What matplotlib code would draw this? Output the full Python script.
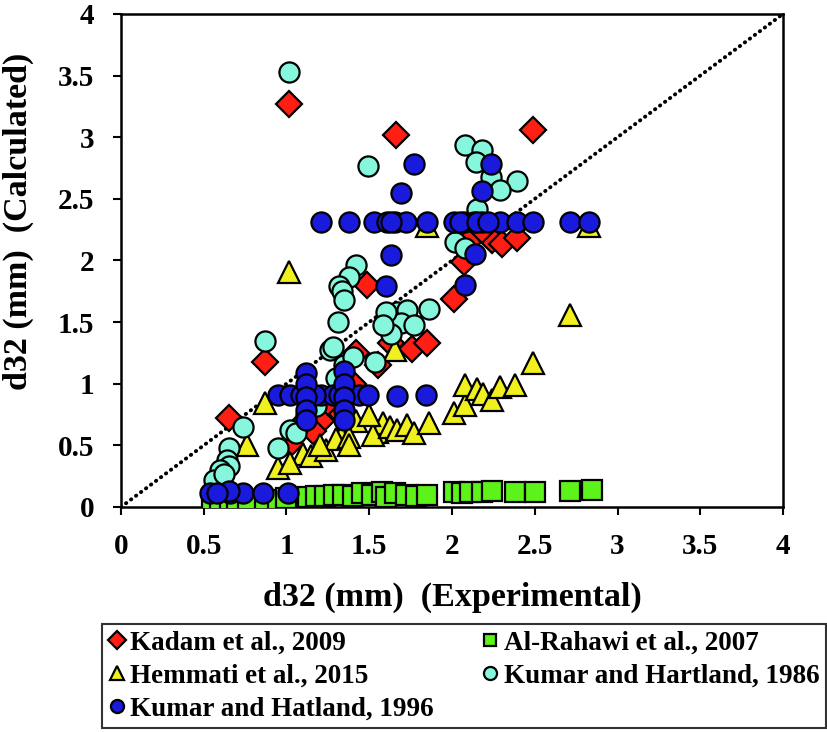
import numpy as np
import matplotlib
matplotlib.use('Agg')
import matplotlib.pyplot as plt

plt.rcParams['font.family'] = ['Liberation Serif', 'DejaVu Serif']
plt.rcParams['font.weight'] = 'bold'

# Kadam et al., 2009 (red diamonds)
kadam_x = [1.015, 1.66, 2.49, 0.87, 0.65, 1.485, 1.42, 1.21, 1.02, 1.16, 1.30, 1.63,
           1.76, 1.85, 2.01, 2.07, 2.14, 2.24, 2.30, 2.39, 2.18, 1.25, 1.10, 1.40, 1.55]
kadam_y = [3.27, 3.02, 3.06, 1.18, 0.72, 1.80, 1.25, 0.70, 0.51, 0.62, 0.80, 1.33,
           1.28, 1.33, 1.69, 1.99, 2.21, 2.17, 2.13, 2.18, 2.25, 0.85, 0.68, 1.00, 1.15]

# Al-Rahawi et al., 2007 (green squares)
rahawi_x = [0.55, 0.60, 0.66, 0.70, 0.77, 0.87, 0.95, 1.00, 1.13, 1.18, 1.23, 1.29, 1.34,
            1.40, 1.455, 1.515, 1.575, 1.60, 1.655, 1.725, 1.78, 1.85, 2.01, 2.06, 2.11,
            2.18, 2.24, 2.38, 2.50, 2.71, 2.845]
rahawi_y = [0.02, 0.03, 0.03, 0.04, 0.04, 0.05, 0.06, 0.07, 0.08, 0.09, 0.09, 0.10, 0.10,
            0.09, 0.11, 0.10, 0.12, 0.08, 0.11, 0.10, 0.09, 0.10, 0.12, 0.11, 0.12,
            0.12, 0.13, 0.12, 0.12, 0.13, 0.14]

# Hemmati et al., 2015 (yellow triangles)
hemmati_x = [1.015, 1.85, 2.83, 2.71, 2.49, 0.87, 0.76, 0.95, 1.10, 1.15, 1.02, 1.24,
             1.34, 1.42, 1.545, 1.585, 1.30, 1.20, 1.38, 1.38, 1.525, 1.625, 1.665, 1.73,
             1.77, 1.86, 1.655, 2.01, 2.08, 2.08, 2.15, 2.19, 2.24, 2.29, 2.38, 1.50]
hemmati_y = [1.91, 2.28, 2.28, 1.56, 1.17, 0.84, 0.50, 0.32, 0.43, 0.41, 0.36, 0.46,
             0.60, 0.70, 0.61, 0.68, 0.55, 0.50, 0.57, 0.50, 0.58, 0.65, 0.625, 0.665,
             0.60, 0.68, 1.27, 0.76, 0.83, 0.99, 0.96, 0.92, 0.87, 0.975, 0.99, 0.75]

# Kumar and Hartland, 1986 (aquamarine circles)
kh86_x = [1.015, 2.08, 2.18, 2.145, 2.235, 2.39, 2.29, 2.15, 2.02, 2.08, 1.49, 1.42,
          1.38, 1.32, 1.335, 1.345, 1.31, 1.67, 1.73, 1.86, 1.69, 1.77, 1.63, 1.60,
          1.585, 1.535, 1.26, 1.28, 0.87, 0.74, 0.65, 0.64, 0.65, 0.60, 0.56, 0.62,
          0.95, 1.02, 1.06, 1.12, 1.18, 1.30, 1.35, 1.40]
kh86_y = [3.53, 2.94, 2.90, 2.80, 2.68, 2.645, 2.57, 2.415, 2.15, 2.10, 2.77, 1.96,
          1.87, 1.79, 1.75, 1.68, 1.50, 1.585, 1.60, 1.61, 1.49, 1.48, 1.40, 1.585,
          1.48, 1.18, 1.27, 1.30, 1.345, 0.65, 0.48, 0.38, 0.33, 0.30, 0.22, 0.27,
          0.475, 0.625, 0.60, 0.75, 0.82, 1.05, 1.15, 1.22]

# Kumar and Hatland, 1996 (blue circles)
kh96_x = [1.77, 1.69, 2.235, 2.18, 1.63, 1.60, 2.14, 2.08,
          1.21, 1.38, 1.53, 1.61, 1.655, 1.72, 1.85, 2.01, 2.07, 2.13, 2.18, 2.29,
          2.39, 2.49, 2.71, 2.83, 1.63, 2.05, 2.15, 2.22,
          0.95, 1.02, 1.09, 1.21, 1.28, 1.36, 1.44, 1.49, 1.665, 1.84, 1.17, 1.32,
          1.12, 1.12, 1.12, 1.12, 1.12,
          1.345, 1.345, 1.345, 1.345, 1.345,
          0.54, 0.66, 0.74, 0.86, 1.01, 0.65, 0.58]
kh96_y = [2.78, 2.55, 2.78, 2.56, 2.045, 1.79, 2.05, 1.80,
          2.31, 2.31, 2.31, 2.31, 2.31, 2.31, 2.31, 2.31, 2.31, 2.31, 2.31, 2.31,
          2.31, 2.31, 2.31, 2.31, 2.31, 2.31, 2.31, 2.31,
          0.91, 0.91, 0.91, 0.91, 0.91, 0.91, 0.91, 0.91, 0.90, 0.91, 0.91, 0.91,
          1.085, 1.00, 0.895, 0.79, 0.705,
          1.10, 1.00, 0.895, 0.79, 0.705,
          0.116, 0.116, 0.116, 0.116, 0.116, 0.13, 0.116]

ticks = [0, 0.5, 1, 1.5, 2, 2.5, 3, 3.5, 4]
tick_labels = ['0', '0.5', '1', '1.5', '2', '2.5', '3', '3.5', '4']

fig = plt.figure(figsize=(8.27, 7.32), dpi=100)
ax = fig.add_axes([0.1463, 0.3074, 0.8005, 0.6735])

# 1:1 line
ax.plot([0, 4], [0, 4], linestyle=(0, (0.1, 1.5)), color='black', linewidth=2.8,
        dash_capstyle='round', zorder=1)

ew = 1.6
h1, = ax.plot(kadam_x, kadam_y, linestyle='none', marker='D', markersize=13.5,
              markerfacecolor='#FF1E14', markeredgecolor='black', markeredgewidth=ew, zorder=2)
h2, = ax.plot(rahawi_x, rahawi_y, linestyle='none', marker='s', markersize=14,
              markerfacecolor='#5CF21A', markeredgecolor='black', markeredgewidth=ew, zorder=3)
h3, = ax.plot(hemmati_x, hemmati_y, linestyle='none', marker='^', markersize=16,
              markerfacecolor='#F0F01E', markeredgecolor='black', markeredgewidth=ew, zorder=4)
h4, = ax.plot(kh86_x, kh86_y, linestyle='none', marker='o', markersize=14.5,
              markerfacecolor='#86F7DC', markeredgecolor='black', markeredgewidth=ew, zorder=5)
h5, = ax.plot(kh96_x, kh96_y, linestyle='none', marker='o', markersize=14.5,
              markerfacecolor='#1A1ADC', markeredgecolor='black', markeredgewidth=ew, zorder=6)

ax.set_xlim(0, 4)
ax.set_ylim(0, 4)
ax.set_xticks(ticks)
ax.set_xticklabels(tick_labels)
ax.set_yticks(ticks)
ax.set_yticklabels(tick_labels)
ax.tick_params(direction='out', length=6, width=1.5, labelsize=21, pad=13)
ax.tick_params(axis='y', pad=13)
for sp in ax.spines.values():
    sp.set_linewidth(1.8)

ax.set_xlabel('d32 (mm)  (Experimental)', fontsize=24.5, fontweight='bold')
ax.xaxis.set_label_coords(0.5, -0.152)
ax.set_ylabel('d32 (mm)  (Calculated)', fontsize=24.5, fontweight='bold')
ax.yaxis.set_label_coords(-0.132, 0.58)

leg = fig.legend([h1, h3, h5, h2, h4],
                 ['Kadam et al., 2009', 'Hemmati et al., 2015', 'Kumar and Hatland, 1996',
                  'Al-Rahawi et al., 2007', 'Kumar and Hartland, 1986'],
                 ncol=2, loc='lower left', bbox_to_anchor=(0.123, 0.005, 0.876, 0.144),
                 mode='expand', fontsize=19.5, frameon=True, fancybox=False,
                 handlelength=0.6, handletextpad=0.2, borderaxespad=0, labelspacing=0.3,
                 markerscale=0.65, borderpad=0.25)
leg.get_frame().set_edgecolor('black')
leg.get_frame().set_linewidth(1.5)

fig.savefig('out.png', dpi=100)
